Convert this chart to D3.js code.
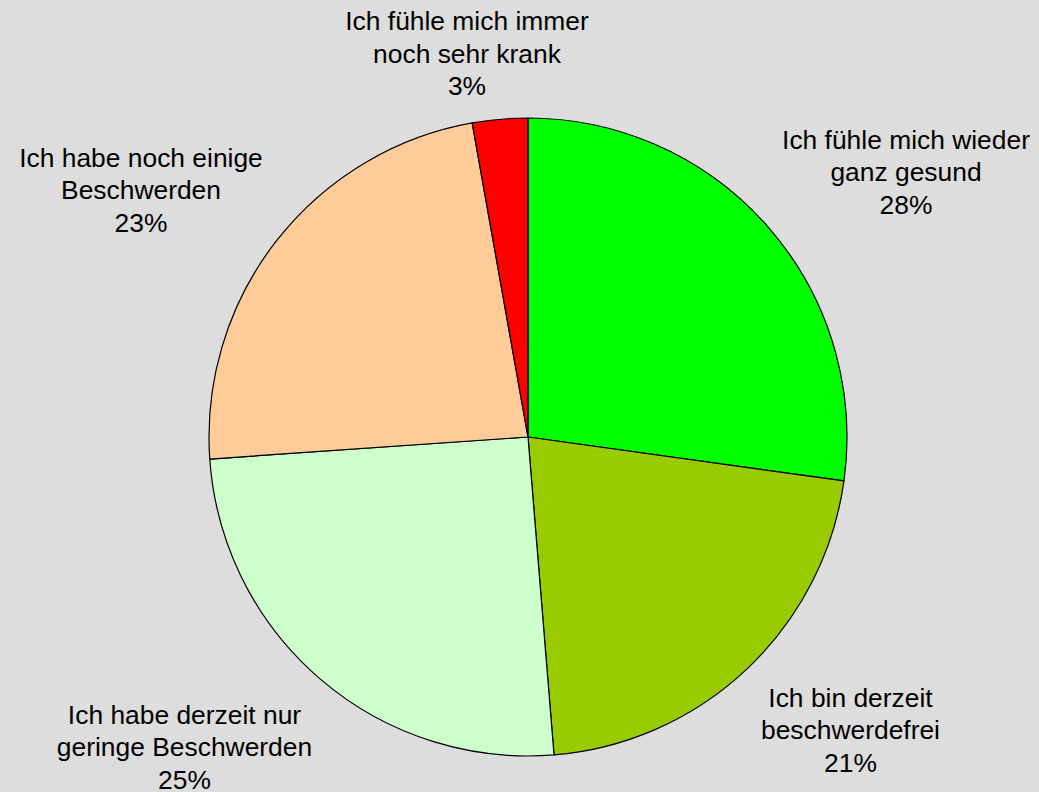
<!DOCTYPE html>
<html>
<head>
<meta charset="utf-8">
<script src="https://cdn.jsdelivr.net/npm/d3@7"></script>
<style>
  html, body { margin: 0; padding: 0; background: #DDDDDD; }
  svg { display: block; }
  text { font-family: "Liberation Sans", Arial, sans-serif; fill: #000; }
</style>
</head>
<body>
<script>
// Categories in clockwise order starting at 12 o'clock
const categories = [
  ["Ich fühle mich wieder", "ganz gesund"],
  ["Ich bin derzeit", "beschwerdefrei"],
  ["Ich habe derzeit nur", "geringe Beschwerden"],
  ["Ich habe noch einige", "Beschwerden"],
  ["Ich fühle mich immer", "noch sehr krank"]
];
// Slice shares
const values = [27.2, 21.5, 25.2, 23.3, 2.8];
// Percent labels as printed on the chart
const percentLabels = ["28%", "21%", "25%", "23%", "3%"];
const colors = ["#00FF00", "#99CC00", "#CCFFCC", "#FFCC99", "#FF0000"];
// Label anchor (center x, first baseline y)
const labelPos = [[906, 148.5], [850.5, 706.5], [184.5, 723.5], [141, 166.7], [467, 30]];

const W = 1039, H = 792;
const cx = 528, cy = 437, R = 319;
const lineH = 32.7;

const svg = d3.select("body").append("svg").attr("width", W).attr("height", H);
svg.append("rect").attr("width", W).attr("height", H).attr("fill", "#DDDDDD");

const pie = d3.pie().sort(null).value(d => d).startAngle(0).endAngle(2 * Math.PI);
const arc = d3.arc().innerRadius(0).outerRadius(R);

const g = svg.append("g").attr("transform", `translate(${cx},${cy})`);
g.selectAll("path").data(pie(values)).join("path")
  .attr("d", arc)
  .attr("fill", (d, i) => colors[i])
  .attr("stroke", "#000")
  .attr("stroke-width", 1.2)
  .attr("stroke-linejoin", "round");

const labels = svg.append("g");
categories.forEach((lines, i) => {
  const t = labels.append("text")
    .attr("text-anchor", "middle")
    .attr("font-size", "26.4px");
  const all = lines.concat([percentLabels[i]]);
  all.forEach((s, k) => {
    t.append("tspan")
      .attr("x", labelPos[i][0])
      .attr("y", labelPos[i][1] + k * lineH)
      .text(s);
  });
});
</script>
</body>
</html>
